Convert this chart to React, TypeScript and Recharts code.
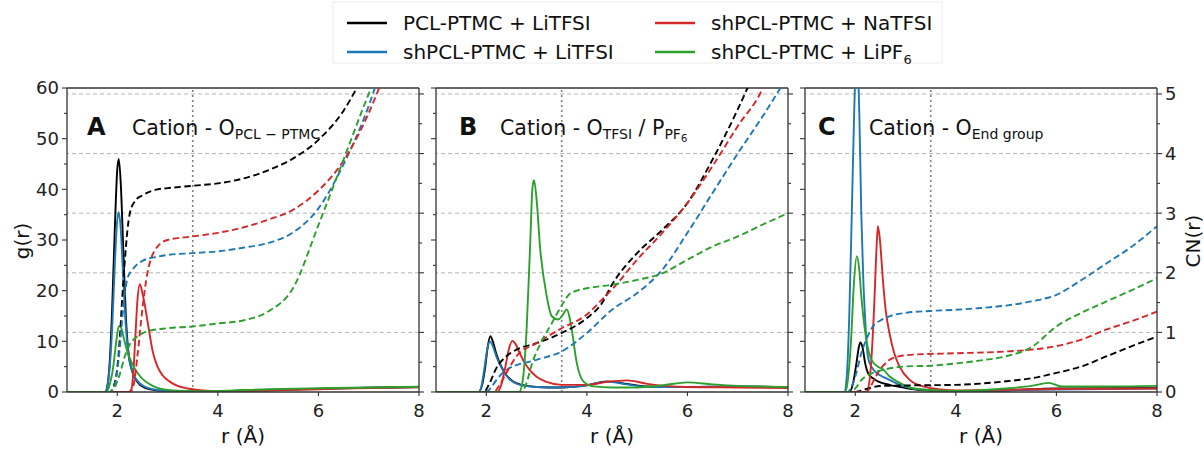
import { LineChart, Line, XAxis, YAxis, ReferenceLine } from 'recharts';

type Pt = [number, number];

const FONT = '"DejaVu Sans", Verdana, sans-serif';
const AXIS = '#333333';

// legend / series
const seriesNames = ['PCL-PTMC + LiTFSI', 'shPCL-PTMC + LiTFSI', 'shPCL-PTMC + NaTFSI', 'shPCL-PTMC + LiPF'];
const seriesColors = ['#000000', '#1f77b4', '#d62728', '#2ca02c'];

// axes
const rTicks = [2, 4, 6, 8];
const gTicks = [0, 5, 10, 15, 20, 25, 30, 35, 40, 45, 50, 55, 60];
const cnTicks = [0, 0.5, 1, 1.5, 2, 2.5, 3, 3.5, 4, 4.5, 5];
const cnGrid = [1, 2, 3, 4, 5];

// ---- Panel A: Cation - O(PCL-PTMC) ----
const A_g_pcl_li: Pt[] = [[1, 0], [1.76, 0], [1.8, 1], [1.85, 6], [1.9, 17], [1.95, 32], [2.0, 44], [2.03, 46], [2.07, 41], [2.12, 28], [2.17, 15], [2.22, 8], [2.3, 4], [2.4, 2], [2.55, 0.8], [2.8, 0.3], [3.2, 0.1], [4, 0.15], [5, 0.35], [6, 0.6], [7, 0.85], [8, 1.0]];
const A_g_sh_li: Pt[] = [[1, 0], [1.76, 0], [1.8, 1], [1.85, 5], [1.9, 13], [1.95, 25], [2.0, 34], [2.03, 35.5], [2.07, 32], [2.12, 22], [2.17, 13], [2.22, 7.5], [2.3, 4], [2.4, 2.2], [2.55, 1], [2.8, 0.4], [3.2, 0.1], [4, 0.15], [5, 0.4], [6, 0.65], [7, 0.85], [8, 1.0]];
const A_g_sh_na: Pt[] = [[1, 0], [2.22, 0], [2.28, 0.5], [2.32, 4], [2.36, 11], [2.4, 18], [2.45, 21.3], [2.5, 19.5], [2.55, 17], [2.6, 14], [2.65, 11], [2.7, 8.2], [2.8, 5], [2.9, 3.3], [3.05, 2], [3.2, 1.2], [3.4, 0.7], [3.7, 0.3], [4, 0.15], [5, 0.3], [6, 0.55], [7, 0.8], [8, 0.95]];
const A_g_sh_pf6: Pt[] = [[1, 0], [1.78, 0], [1.85, 1.5], [1.92, 5], [1.98, 10], [2.03, 13], [2.07, 12.8], [2.12, 11], [2.2, 8], [2.3, 5.5], [2.4, 3.8], [2.5, 2.6], [2.65, 1.5], [2.8, 0.8], [3.1, 0.3], [3.5, 0.15], [4, 0.2], [5, 0.55], [6, 0.75], [7, 0.9], [8, 1.05]];
const A_cn_pcl_li: Pt[] = [[1, 0], [1.85, 0], [1.93, 0.1], [2.0, 0.4], [2.05, 0.9], [2.1, 1.6], [2.15, 2.2], [2.2, 2.7], [2.25, 3.0], [2.35, 3.2], [2.5, 3.3], [2.8, 3.4], [3.0, 3.42], [3.5, 3.46], [4.0, 3.5], [4.5, 3.58], [5.0, 3.72], [5.5, 3.92], [6.0, 4.23], [6.5, 4.72], [7.0, 5.5]];
const A_cn_sh_li: Pt[] = [[1, 0], [1.85, 0], [1.93, 0.08], [2.0, 0.35], [2.05, 0.75], [2.1, 1.25], [2.15, 1.65], [2.2, 1.9], [2.3, 2.05], [2.5, 2.2], [2.8, 2.27], [3.0, 2.3], [3.5, 2.33], [4.0, 2.36], [4.5, 2.42], [5.0, 2.5], [5.5, 2.68], [6.0, 3.08], [6.5, 3.82], [7.0, 4.8], [7.2, 5.3]];
const A_cn_sh_na: Pt[] = [[1, 0], [2.25, 0], [2.32, 0.1], [2.4, 0.6], [2.5, 1.4], [2.6, 2.0], [2.7, 2.3], [2.8, 2.44], [3.0, 2.55], [3.5, 2.61], [4.0, 2.67], [4.5, 2.76], [5.0, 2.89], [5.5, 3.06], [6.0, 3.38], [6.5, 3.88], [7.0, 4.68], [7.3, 5.3]];
const A_cn_sh_pf6: Pt[] = [[1, 0], [1.85, 0], [1.95, 0.08], [2.05, 0.3], [2.15, 0.6], [2.25, 0.8], [2.4, 0.93], [2.6, 1.02], [3.0, 1.07], [3.5, 1.1], [4.0, 1.15], [4.5, 1.2], [5.0, 1.35], [5.5, 1.75], [6.0, 2.8], [6.5, 3.9], [7.0, 5.0], [7.15, 5.3]];

// ---- Panel B: Cation - O(TFSI) / P(PF6) ----
const B_g_pcl_li: Pt[] = [[1, 0], [1.85, 0], [1.92, 1.5], [1.98, 5], [2.03, 9], [2.08, 11], [2.13, 10], [2.2, 7.5], [2.3, 5], [2.4, 3.3], [2.5, 2.3], [2.7, 1.4], [3.0, 1.0], [3.5, 0.9], [4.0, 1.3], [4.4, 2.1], [4.8, 1.6], [5.2, 1.1], [6, 1.0], [7, 1.1], [8, 1.0]];
const B_g_sh_li: Pt[] = [[1, 0], [1.85, 0], [1.9, 1], [1.96, 4.5], [2.02, 8.5], [2.07, 10], [2.12, 9.3], [2.2, 7], [2.3, 4.8], [2.4, 3.2], [2.5, 2.2], [2.7, 1.3], [3.0, 1.0], [3.5, 0.9], [4.0, 1.3], [4.4, 2.0], [4.8, 1.5], [5.2, 1.0], [6, 1.0], [7, 1.05], [8, 1.0]];
const B_g_sh_na: Pt[] = [[1, 0], [2.22, 0], [2.3, 1.5], [2.38, 5], [2.45, 8.5], [2.52, 10.1], [2.58, 9.5], [2.65, 8], [2.75, 6], [2.85, 4.5], [3.0, 3.0], [3.2, 2.0], [3.5, 1.4], [4.0, 1.4], [4.4, 2.0], [4.8, 2.3], [5.2, 1.6], [6, 1.0], [7, 0.9], [8, 0.8]];
const B_g_sh_pf6: Pt[] = [[1, 0], [2.65, 0], [2.72, 2], [2.8, 12], [2.87, 28.5], [2.92, 40.5], [2.95, 41.8], [3.0, 38], [3.07, 28.5], [3.2, 19], [3.3, 15], [3.43, 14.3], [3.52, 15.2], [3.6, 16.3], [3.65, 15], [3.7, 12.3], [3.8, 5.7], [3.93, 2.1], [4.13, 1.1], [4.5, 0.9], [5, 0.9], [5.5, 1.3], [6, 1.9], [6.5, 1.5], [7, 1.2], [8, 1.0]];
const B_cn_pcl_li: Pt[] = [[1, 0], [1.95, 0], [2.05, 0.12], [2.2, 0.4], [2.4, 0.6], [2.6, 0.71], [3.0, 0.82], [3.5, 0.99], [4.0, 1.24], [4.3, 1.49], [4.5, 1.8], [5.0, 2.33], [5.5, 2.72], [6.0, 3.17], [6.5, 3.9], [7.0, 4.74], [7.3, 5.3]];
const B_cn_sh_li: Pt[] = [[1, 0], [2.0, 0], [2.1, 0.08], [2.2, 0.2], [2.4, 0.37], [3.0, 0.54], [3.5, 0.68], [4.0, 0.99], [4.5, 1.38], [5.0, 1.66], [5.5, 2.05], [6.0, 2.67], [6.5, 3.34], [7.0, 4.0], [7.5, 4.63], [7.85, 5.1], [8, 5.3]];
const B_cn_sh_na: Pt[] = [[1, 0], [2.15, 0], [2.25, 0.1], [2.4, 0.32], [2.6, 0.6], [3.0, 0.82], [3.5, 1.07], [4.0, 1.3], [4.3, 1.55], [4.5, 1.72], [5.0, 2.22], [5.5, 2.67], [6.0, 3.17], [6.5, 3.79], [7.0, 4.46], [7.5, 5.1], [7.6, 5.3]];
const B_cn_sh_pf6: Pt[] = [[1, 0], [2.7, 0], [2.8, 0.15], [2.9, 0.45], [3.1, 0.85], [3.3, 1.15], [3.5, 1.45], [3.65, 1.64], [3.8, 1.7], [4.0, 1.74], [4.5, 1.8], [5.0, 1.88], [5.5, 1.99], [6.0, 2.22], [6.5, 2.44], [7.0, 2.61], [7.5, 2.81], [8.0, 3.0]];

// ---- Panel C: Cation - O(End group) ----
const C_g_pcl_li: Pt[] = [[1, 0], [1.88, 0], [1.95, 1.5], [2.02, 5.5], [2.07, 8.8], [2.1, 9.8], [2.14, 9], [2.2, 5.5], [2.25, 3.8], [2.35, 2.7], [2.45, 2.1], [2.68, 1.4], [3.0, 0.8], [3.3, 0.4], [4, 0.1], [5, 0.3], [6, 0.7], [7, 0.75], [8, 0.8]];
const C_g_sh_li: Pt[] = [[1, 0], [1.78, 0], [1.83, 3], [1.88, 15], [1.93, 35], [1.98, 56], [2.03, 68], [2.08, 55], [2.12, 35], [2.16, 22], [2.19, 15.6], [2.25, 7], [2.32, 5], [2.42, 3.8], [2.55, 3], [2.68, 2.4], [2.88, 1.4], [3.2, 0.6], [4.0, 0.2], [5, 0.35], [6, 0.5], [7, 0.6], [8, 0.7]];
const C_g_sh_na: Pt[] = [[1, 0], [2.22, 0], [2.28, 2], [2.33, 8], [2.38, 18], [2.42, 28], [2.45, 32.7], [2.49, 30], [2.55, 22], [2.6, 16.5], [2.68, 11.6], [2.78, 7.5], [2.88, 5], [3.08, 2.4], [3.35, 1.1], [3.7, 0.5], [4, 0.3], [5, 0.45], [6, 0.6], [7, 0.65], [8, 0.7]];
const C_g_sh_pf6: Pt[] = [[1, 0], [1.8, 0], [1.86, 3], [1.92, 11], [1.97, 21], [2.03, 26.8], [2.08, 24], [2.12, 18.9], [2.17, 14], [2.22, 10.3], [2.32, 6.4], [2.45, 5], [2.55, 4.5], [2.68, 3.1], [2.85, 2], [3.02, 1.1], [3.3, 0.5], [4, 0.2], [5, 0.7], [5.5, 1.2], [5.85, 1.8], [6.1, 1.1], [7, 1.1], [8, 1.2]];
const C_cn_pcl_li: Pt[] = [[1, 0], [2.0, 0], [2.1, 0.02], [2.22, 0.05], [2.49, 0.1], [3.0, 0.11], [4.0, 0.12], [5.0, 0.18], [5.5, 0.23], [6.0, 0.32], [6.5, 0.43], [7.0, 0.6], [7.5, 0.77], [8.0, 0.93]];
const C_cn_sh_li: Pt[] = [[1, 0], [1.85, 0], [1.93, 0.1], [2.02, 0.32], [2.12, 0.65], [2.22, 0.88], [2.35, 1.1], [2.5, 1.2], [2.68, 1.27], [3.02, 1.33], [3.5, 1.36], [4.0, 1.38], [4.5, 1.41], [5.0, 1.45], [5.5, 1.52], [6.0, 1.63], [6.5, 1.88], [7.0, 2.16], [7.5, 2.44], [8.0, 2.78]];
const C_cn_sh_na: Pt[] = [[1, 0], [2.22, 0], [2.3, 0.08], [2.37, 0.2], [2.49, 0.37], [2.68, 0.54], [2.88, 0.6], [3.22, 0.63], [4.0, 0.65], [5.0, 0.68], [5.5, 0.71], [6.0, 0.77], [6.5, 0.88], [7.0, 1.05], [7.5, 1.19], [8.0, 1.35]];
const C_cn_sh_pf6: Pt[] = [[1, 0], [1.9, 0], [2.0, 0.06], [2.12, 0.2], [2.35, 0.32], [2.55, 0.37], [3.02, 0.43], [3.5, 0.44], [4.0, 0.48], [4.5, 0.53], [5.0, 0.6], [5.5, 0.75], [6.0, 1.1], [6.5, 1.33], [7.0, 1.52], [7.5, 1.71], [8.0, 1.91]];

const PLOT_W = 352;
const PLOT_TOP = 88;
const PLOT_BOTTOM = 392;
const H = 449;

const panels = [
  { key: 'A', left: 0, leftW: 67, rightW: 21, gLabels: true, cnLabels: false,
    g: [A_g_pcl_li, A_g_sh_li, A_g_sh_na, A_g_sh_pf6], cn: [A_cn_pcl_li, A_cn_sh_li, A_cn_sh_na, A_cn_sh_pf6] },
  { key: 'B', left: 421, leftW: 15, rightW: 22, gLabels: false, cnLabels: false,
    g: [B_g_pcl_li, B_g_sh_li, B_g_sh_na, B_g_sh_pf6], cn: [B_cn_pcl_li, B_cn_sh_li, B_cn_sh_na, B_cn_sh_pf6] },
  { key: 'C', left: 790, leftW: 15, rightW: 47, gLabels: false, cnLabels: true,
    g: [C_g_pcl_li, C_g_sh_li, C_g_sh_na, C_g_sh_pf6], cn: [C_cn_pcl_li, C_cn_sh_li, C_cn_sh_na, C_cn_sh_pf6] },
];

const rows = (pts: Pt[]) => pts.map(([r, v]) => ({ r, v }));

function yTick(axisX: number, side: 'left' | 'right', showLabels: boolean, step: number) {
  return (props: any) => {
    const { y, payload } = props;
    const v = payload.value as number;
    const major = Math.abs(v / step - Math.round(v / step)) < 1e-6;
    const dir = side === 'left' ? -1 : 1;
    return (
      <g>
        <line x1={axisX} x2={axisX + dir * (major ? 5 : 3)} y1={y} y2={y} stroke={AXIS} strokeWidth={1.1} />
        {showLabels && major && (
          <text x={axisX + dir * 8} y={y} dy="0.36em" textAnchor={side === 'left' ? 'end' : 'start'}
            fontSize={18} fill="#222" fontFamily={FONT}>{v}</text>
        )}
      </g>
    );
  };
}

function xTick(props: any) {
  const { x, payload } = props;
  return (
    <g>
      <line x1={x} x2={x} y1={PLOT_BOTTOM} y2={PLOT_BOTTOM + 4} stroke={AXIS} strokeWidth={1.1} />
      <text x={x} y={PLOT_BOTTOM + 25} textAnchor="middle" fontSize={18} fill="#222" fontFamily={FONT}>{payload.value}</text>
    </g>
  );
}

function Panel({ p }: { p: typeof panels[number] }) {
  const width = p.leftW + PLOT_W + p.rightW;
  return (
    <div style={{ position: 'absolute', left: p.left, top: 0 }}>
      <LineChart width={width} height={H} margin={{ top: PLOT_TOP, right: 0, bottom: 0, left: 0 }}>
        <XAxis dataKey="r" type="number" domain={[1, 8]} ticks={rTicks} allowDataOverflow interval={0}
          height={H - PLOT_BOTTOM} tickLine={false} tick={xTick} axisLine={{ stroke: AXIS, strokeWidth: 1.3 }} />
        <YAxis yAxisId="g" orientation="left" type="number" domain={[0, 60]} ticks={gTicks} allowDataOverflow
          interval={0} width={p.leftW} tickLine={false} tick={yTick(p.leftW, 'left', p.gLabels, 10)}
          axisLine={{ stroke: AXIS, strokeWidth: 1.3 }} />
        <YAxis yAxisId="cn" orientation="right" type="number" domain={[0, 5.1]} ticks={cnTicks} allowDataOverflow
          interval={0} width={p.rightW} tickLine={false} tick={yTick(p.leftW + PLOT_W, 'right', p.cnLabels, 1)}
          axisLine={{ stroke: AXIS, strokeWidth: 1.3 }} />
        {cnGrid.map((c) => (
          <ReferenceLine key={c} yAxisId="cn" y={c} stroke="#b4b4b4" strokeDasharray="4 3" strokeWidth={1} />
        ))}
        <ReferenceLine yAxisId="g" x={3.5} stroke="#808080" strokeDasharray="2 3" strokeWidth={1.6} />
        <ReferenceLine yAxisId="g" y={60} stroke={AXIS} strokeWidth={1.3} />
        {p.g.map((d, i) => (
          <Line key={'g' + i} yAxisId="g" data={rows(d)} dataKey="v" type="monotone" stroke={seriesColors[i]}
            strokeWidth={1.9} dot={false} activeDot={false} isAnimationActive={false} />
        ))}
        {p.cn.map((d, i) => (
          <Line key={'cn' + i} yAxisId="cn" data={rows(d)} dataKey="v" type="monotone" stroke={seriesColors[i]}
            strokeWidth={1.9} strokeDasharray="6.5 3.5" dot={false} activeDot={false} isAnimationActive={false} />
        ))}
      </LineChart>
    </div>
  );
}

function Titles() {
  const base = 135;
  return (
    <g fontFamily={FONT} fill="#111">
      <text x={87} y={base} fontSize={24} fontWeight="bold">A</text>
      <text x={132} y={base} fontSize={20.5}>
        Cation - O<tspan fontSize={14} dy={4}>PCL − PTMC</tspan>
      </text>
      <text x={459} y={base} fontSize={24} fontWeight="bold">B</text>
      <text x={500} y={base} fontSize={20.5}>
        Cation - O<tspan fontSize={14} dy={4}>TFSI</tspan>
        <tspan fontSize={20.5} dy={-4}> / P</tspan>
        <tspan fontSize={14} dy={4}>PF</tspan>
        <tspan fontSize={10} dy={3}>6</tspan>
      </text>
      <text x={818} y={base} fontSize={24} fontWeight="bold">C</text>
      <text x={869} y={base} fontSize={20.5}>
        Cation - O<tspan fontSize={14} dy={4}>End group</tspan>
      </text>
    </g>
  );
}

function Legend() {
  const rowsY = [23, 52];
  const colX = [347, 655];
  const slots = [[0, 0], [0, 1], [1, 0], [1, 1]]; // [col, row] for each series
  return (
    <g fontFamily={FONT}>
      <rect x={333} y={2} width={609} height={61} fill="#fff" stroke="#ececec" strokeWidth={1} />
      {seriesNames.map((name, i) => {
        const [c, r] = slots[i];
        const x = colX[c];
        const y = rowsY[r];
        return (
          <g key={name}>
            <line x1={x} x2={x + 40} y1={y} y2={y} stroke={seriesColors[i]} strokeWidth={2.6} />
            <text x={x + 56} y={y} dy="0.36em" fontSize={20} fill="#111">
              {name}
              {i === 3 && <tspan fontSize={13} dy={5}>6</tspan>}
            </text>
          </g>
        );
      })}
    </g>
  );
}

export default function App() {
  const centers = panels.map((p) => p.left + p.leftW + PLOT_W / 2);
  return (
    <div style={{ position: 'absolute', left: 0, top: 0, width: 1204, height: H, background: '#fff', overflow: 'hidden' }}>
      {panels.map((p) => <Panel key={p.key} p={p} />)}
      <svg width={1204} height={H} style={{ position: 'absolute', left: 0, top: 0, pointerEvents: 'none' }}>
        <Titles />
        <Legend />
        <g fontFamily={FONT} fontSize={20} fill="#111">
          <text x={22} y={241} textAnchor="middle" dominantBaseline="central" transform="rotate(-90 22 241)">g(r)</text>
          <text x={1193} y={241} textAnchor="middle" dominantBaseline="central" transform="rotate(-90 1193 241)">CN(r)</text>
          {centers.map((cx, i) => (
            <text key={i} x={cx} y={436} textAnchor="middle" dominantBaseline="central">r (Å)</text>
          ))}
        </g>
      </svg>
    </div>
  );
}
